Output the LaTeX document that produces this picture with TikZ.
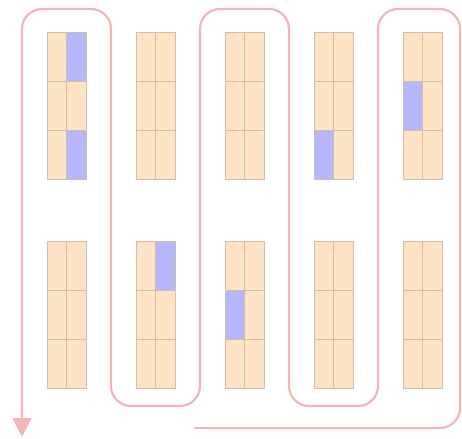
\documentclass[tikz,border=0pt]{standalone}
\usetikzlibrary{arrows.meta}
\definecolor{rackfill}{RGB}{253,227,196}
\definecolor{rackline}{RGB}{205,192,172}
\definecolor{slotblue}{RGB}{182,182,250}
\definecolor{routepink}{RGB}{242,182,184}
\tikzset{
  cellbox/.style={draw=rackline, line width=0.8pt, fill=rackfill},
  bluecell/.style={draw=rackline, line width=0.8pt, fill=slotblue},
  route/.style={draw=routepink, line width=2.2pt, rounded corners=20pt, line cap=round}
}
\begin{document}
\begin{tikzpicture}[x=1pt,y=-1pt]
\useasboundingbox (0,0) rectangle (462,438);
% racks: columns at x0, rows at y0
\foreach \cx in {47,136,225,314,403}{
  \foreach \ry in {32,241}{
    \foreach \r in {0,1,2}{
      \foreach \c in {0,1}{
        \path[cellbox] ({\cx+\c*19.5},{\ry+\r*49}) rectangle ++(19.5,49);
      }
    }
  }
}
% blue slots
\path[bluecell] (66.5,32) rectangle ++(19.5,49);
\path[bluecell] (66.5,130) rectangle ++(19.5,49);
\path[bluecell] (155.5,241) rectangle ++(19.5,49);
\path[bluecell] (225,290) rectangle ++(19.5,49);
\path[bluecell] (314,130) rectangle ++(19.5,49);
\path[bluecell] (403,81) rectangle ++(19.5,49);
% route
\coordinate (start) at (195,428);
\coordinate (stop) at (22,437);
\draw[route, -{Triangle[width=19pt,length=19pt]}]
  (start) -- (460,428) -- (460,9) -- (378,9) -- (378,406) -- (289,406)
  -- (289,9) -- (200,9) -- (200,406) -- (111,406) -- (111,9) -- (22,9) -- (stop);
\end{tikzpicture}
\end{document}
